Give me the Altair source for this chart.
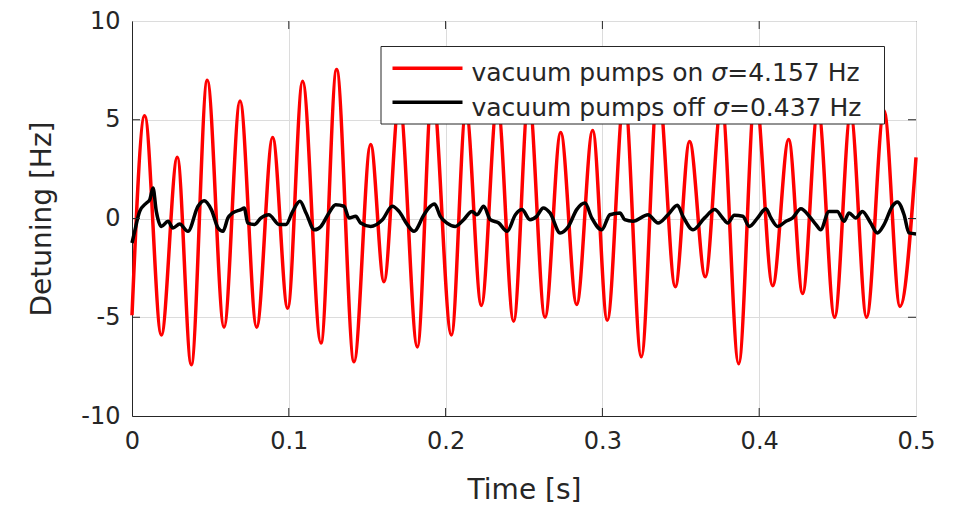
import altair as alt
import pandas as pd

# ---------------- data ----------------
red_t = [0.0, 0.0081, 0.0187, 0.0289, 0.0378, 0.0480, 0.0587, 0.0689, 0.0795, 0.0897,
         0.0993, 0.1088, 0.1205, 0.1305, 0.1416, 0.1522, 0.1607, 0.1705, 0.1820, 0.1915,
         0.2037, 0.2130, 0.2228, 0.2330, 0.2434, 0.2530, 0.2634, 0.2734, 0.2836, 0.2938,
         0.3031, 0.3140, 0.3248, 0.3355, 0.3465, 0.3556, 0.3656, 0.3760, 0.3869, 0.3975,
         0.4086, 0.4188, 0.4277, 0.4375, 0.4481, 0.4583, 0.4685, 0.4796, 0.4898, 0.5]
red_v = [-4.9, 5.2, -5.9, 3.1, -7.4, 7.0, -5.5, 5.95, -5.5, 4.1,
         -4.55, 6.95, -6.3, 7.55, -7.25, 3.75, -3.2, 6.0, -6.5, 6.6,
         -5.9, 5.5, -4.4, 5.9, -5.2, 6.2, -5.0, 4.35, -4.35, 4.45,
         -5.15, 6.3, -7.0, 6.8, -3.45, 3.9, -2.95, 5.9, -7.35, 6.4,
         -3.4, 4.0, -3.8, 5.6, -5.0, 5.3, -5.0, 5.45, -4.45, 3.1]

black_t = [0.0, 0.0017, 0.0049, 0.0091, 0.0113, 0.0134, 0.0155, 0.0187, 0.0230, 0.0261,
           0.0304, 0.0357, 0.0421, 0.0460, 0.0506, 0.0549, 0.0580, 0.0612, 0.0642, 0.0695,
           0.0716, 0.0738, 0.0780, 0.0823, 0.0872, 0.0940, 0.0982, 0.1025, 0.1071, 0.1110,
           0.1163, 0.1205, 0.1256, 0.1299, 0.1352, 0.1384, 0.1427, 0.1458, 0.1522, 0.1597,
           0.1660, 0.1703, 0.1756, 0.1798, 0.1862, 0.1892, 0.1930, 0.1966, 0.2009, 0.2062,
           0.2115, 0.2168, 0.2200, 0.2243, 0.2285, 0.2339, 0.2392, 0.2445, 0.2487, 0.2538,
           0.2581, 0.2623, 0.2666, 0.2730, 0.2783, 0.2836, 0.2889, 0.2932, 0.2996, 0.3048,
           0.3112, 0.3142, 0.3195, 0.3291, 0.3355, 0.3418, 0.3478, 0.3514, 0.3578, 0.3652,
           0.3716, 0.3767, 0.3799, 0.3841, 0.3895, 0.3937, 0.3990, 0.4043, 0.4075, 0.4118,
           0.4171, 0.4213, 0.4266, 0.4320, 0.4362, 0.4392, 0.4445, 0.4498, 0.4541, 0.4573,
           0.4615, 0.4658, 0.4711, 0.4753, 0.4796, 0.4849, 0.4881, 0.4924, 0.4955, 0.5]
black_v = [-1.24, -0.65, 0.36, 0.78, 0.95, 1.54, 0.36, -0.40, -0.14, -0.48,
           -0.28, -0.65, 0.62, 0.90, 0.45, -0.48, -0.65, 0.03, 0.28, 0.45,
           0.53, -0.23, -0.31, 0.03, 0.19, -0.31, -0.31, 0.36, 0.87, 0.28,
           -0.57, -0.40, 0.28, 0.70, 0.62, 0.03, 0.11, -0.23, -0.40, -0.06,
           0.62, 0.36, -0.31, -0.65, 0.19, 0.53, 0.73, 0.11, -0.23, -0.40,
           -0.06, 0.36, 0.19, 0.62, -0.06, -0.23, -0.65, 0.19, 0.45, -0.06,
           0.11, 0.53, 0.28, -0.73, -0.40, 0.45, 0.78, 0.03, -0.57, 0.19,
           0.28, -0.06, -0.14, 0.19, -0.23, 0.19, 0.67, 0.11, -0.57, 0.03,
           0.45, 0.03, -0.23, 0.16, 0.11, -0.40, 0.03, 0.50, 0.03, -0.40,
           -0.14, 0.03, 0.50, 0.11, -0.31, -0.57, 0.36, 0.36, -0.14, 0.28,
           0.03, 0.36, -0.23, -0.73, -0.31, 0.62, 0.84, 0.19, -0.73, -0.78]

x_ticks = [0, 0.1, 0.2, 0.3, 0.4, 0.5]
y_ticks = [-10, -5, 0, 5, 10]
legend_names = ["vacuum pumps on", "vacuum pumps off"]
legend_sigma = ["=4.157 Hz", "=0.437 Hz"]
legend_colors = ["#ff0000", "#000000"]

# ---------------- styling ----------------
W, H = 784, 395
FONT = "DejaVu Sans"
INK = "#262626"
GRID = "#dcdcdc"
LFS = 25  # legend font size

# DejaVu Sans advance widths (units of 1/2048 em) for laying out the legend text
_adv = {" ": 651, "a": 1255, "c": 1126, "f": 721, "m": 1995, "n": 1298, "o": 1253,
        "p": 1300, "s": 1067, "u": 1298, "v": 1212}


def text_w(s, size):
    return sum(_adv.get(ch, 1250) for ch in s) / 2048 * size


red_df = pd.DataFrame({"t": red_t, "v": red_v})
black_df = pd.DataFrame({"t": black_t, "v": black_v})
xt_df = pd.DataFrame({"t": x_ticks[1:-1]})
yt_df = pd.DataFrame({"v": y_ticks[1:-1]})
one = pd.DataFrame({"k": [0]})

xs = alt.Scale(domain=[0, 0.5], nice=False, zero=False)
ys = alt.Scale(domain=[-10, 10], nice=False, zero=False)

x_axis = alt.Axis(values=x_ticks, labelExpr="datum.value + ''", title="Time [s]", grid=True,
                  ticks=False, labelFlush=False, labelOverlap=False,
                  labelPadding=13, labelFontSize=24, labelFont=FONT, labelColor=INK,
                  titleFont=FONT, titleFontSize=28, titleFontWeight="normal", titleColor=INK,
                  titleY=82, titleBaseline="alphabetic",
                  domainColor=INK, gridColor=GRID, gridWidth=1)
y_axis = alt.Axis(values=y_ticks, labelExpr="datum.value + ''", title="Detuning [Hz]", grid=True,
                  ticks=False, labelFlush=False, labelOverlap=False,
                  labelPadding=12, labelFontSize=24, labelFont=FONT, labelColor=INK,
                  titleFont=FONT, titleFontSize=28, titleFontWeight="normal", titleColor=INK,
                  titleX=-82, titleBaseline="alphabetic",
                  domainColor=INK, gridColor=GRID, gridWidth=1)

X = alt.X("t:Q", scale=xs, axis=x_axis)
Y = alt.Y("v:Q", scale=ys, axis=y_axis)

red = alt.Chart(red_df).mark_line(color=legend_colors[0], strokeWidth=3.5,
                                  interpolate="monotone").encode(x=X, y=Y)
black = alt.Chart(black_df).mark_line(color=legend_colors[1], strokeWidth=3.5,
                                      interpolate="monotone").encode(x=X, y=Y)

# inward ticks (MATLAB style) on all four sides
tk = dict(color=INK, strokeWidth=1)
tick_b = alt.Chart(xt_df).mark_rule(**tk).encode(x=X, y=alt.value(H), y2=alt.value(H - 8))
tick_t = alt.Chart(xt_df).mark_rule(**tk).encode(x=X, y=alt.value(0), y2=alt.value(8))
tick_l = alt.Chart(yt_df).mark_rule(**tk).encode(y=Y, x=alt.value(0), x2=alt.value(8))
tick_r = alt.Chart(yt_df).mark_rule(**tk).encode(y=Y, x=alt.value(W), x2=alt.value(W - 8))

# legend box (drawn by hand so that sigma can be italic)
LX0, LX1, LY0, LY1 = 249, 752.5, 25.5, 103
box = alt.Chart(one).mark_rect(fill="white", stroke=INK, strokeWidth=1).encode(
    x=alt.value(LX0), x2=alt.value(LX1), y=alt.value(LY0), y2=alt.value(LY1))

legend_layers = [box]
row_line_y = [47.2, 81.2]
row_base_y = [59.5, 94.5]
text_x = 339.5
for i in range(2):
    legend_layers.append(
        alt.Chart(one).mark_rule(color=legend_colors[i], strokeWidth=3.5).encode(
            x=alt.value(260.5), x2=alt.value(330.5), y=alt.value(row_line_y[i])))
    name = legend_names[i] + " "
    sx = text_x + text_w(name, LFS)
    ex = sx + 1300 / 2048 * LFS
    txt = dict(align="left", baseline="alphabetic", font=FONT, fontSize=LFS, color=INK)
    legend_layers.append(alt.Chart(one).mark_text(**txt).encode(
        x=alt.value(text_x), y=alt.value(row_base_y[i]), text=alt.value(legend_names[i])))
    legend_layers.append(alt.Chart(one).mark_text(fontStyle="italic", **txt).encode(
        x=alt.value(sx), y=alt.value(row_base_y[i]), text=alt.value("σ")))
    legend_layers.append(alt.Chart(one).mark_text(**txt).encode(
        x=alt.value(ex), y=alt.value(row_base_y[i]), text=alt.value(legend_sigma[i])))

chart = alt.layer(red, black, tick_b, tick_t, tick_l, tick_r, *legend_layers).properties(
    width=W, height=H,
    padding={"left": 124, "top": 13, "right": 40, "bottom": 88},
    autosize=alt.AutoSizeParams(type="none"),
    background="white",
).configure_view(stroke=INK, strokeWidth=1)

chart.save("out.html", embed_options={"renderer": "svg", "actions": False})
